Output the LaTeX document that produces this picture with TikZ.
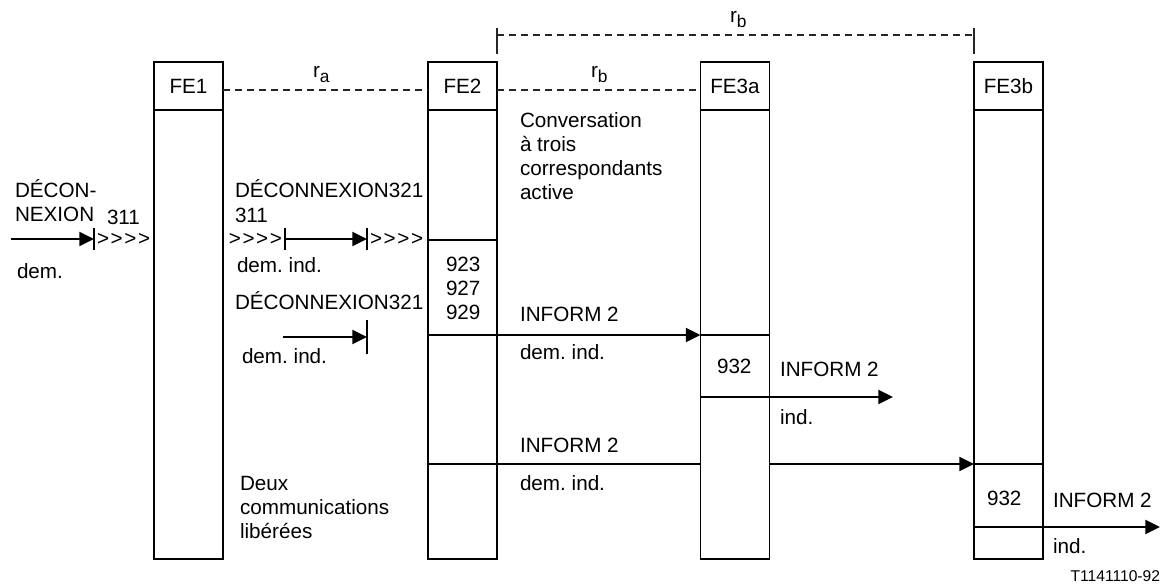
\documentclass[tikz,border=0pt]{standalone}
\usepackage{fontspec}
\setmainfont{Liberation Sans}
\frenchspacing
\usetikzlibrary{arrows.meta}
\newcommand{\chevrons}{>\kern1.2pt>\kern1.2pt>\kern1.2pt>}
\begin{document}
\begin{tikzpicture}[x=0.75pt,y=-0.75pt,
  every node/.style={font=\fontsize{15.5pt}{18pt}\selectfont\frenchspacing, inner sep=0pt, outer sep=0pt},
  hdr/.style={draw, line width=0.9pt, minimum width=51.75pt, minimum height=36pt},
  bodybox/.style={draw, line width=0.9pt, minimum width=51.75pt, minimum height=336.75pt},
  sep/.style={line width=1.5pt},
  arr/.style={line width=1.5pt, -{Triangle[length=11pt,width=10.5pt]}},
  tickl/.style={line width=1.5pt},
  rel/.style={dash pattern=on 5.5pt off 3.5pt, line width=0.8pt, black!85},
  reltick/.style={line width=0.8pt, black!85},
  lbl/.style={anchor=base west},
  lblm/.style={anchor=base west, align=left},
]
\useasboundingbox (0,0) rectangle (1167,584);

% functional entities
\node[hdr] (fe1) at (188.5,86) {FE1};
\node[hdr] (fe2) at (462.5,86) {FE2};
\node[hdr] (fe3a) at (735,86) {FE3a};
\node[hdr] (fe3b) at (1008.5,86) {FE3b};
\node[bodybox] (fe1b) at (188.5,334.5) {};
\node[bodybox] (fe2b) at (462.5,334.5) {};
\node[bodybox] (fe3ab) at (735,334.5) {};
\node[bodybox] (fe3bb) at (1008.5,334.5) {};
\foreach \n in {fe1,fe2,fe3a,fe3b}{\draw[sep] (\n.south west) -- (\n.south east);}

% relationships
\draw[rel] ([yshift=-3pt]fe1.east) -- ([yshift=-3pt]fe2.west);
\draw[rel] ([yshift=-3pt]fe2.east) -- ([yshift=-3pt]fe3a.west);
\coordinate (ytop) at (0,35);
\coordinate (ta) at (fe2.east |- ytop);
\coordinate (tb) at (fe3b.west |- ytop);
\draw[rel] (ta) -- (tb);
\draw[reltick] ([yshift=5.25pt]ta) -- ([yshift=-14.25pt]ta);
\draw[reltick] ([yshift=5.25pt]tb) -- ([yshift=-14.25pt]tb);
\node[lbl] (ra) at (313,77.5) {r\raisebox{-3.5pt}{\fontsize{13pt}{13pt}\selectfont a}};
\node[lbl] (rb1) at (591,77.5) {r\raisebox{-3.5pt}{\fontsize{13pt}{13pt}\selectfont b}};
\node[lbl] (rb2) at (730,22.5) {r\raisebox{-3.5pt}{\fontsize{13pt}{13pt}\selectfont b}};

% helper rows
\coordinate (y240) at (0,240);
\coordinate (y335) at (0,335);
\coordinate (y464) at (0,464);

% left side: incoming DECONNEXION
\coordinate (a1s) at (11,239);
\coordinate (a1e) at (94,239);
\draw[arr] (a1s) -- (a1e);
\draw[tickl] ([yshift=8.25pt]a1e) -- ([yshift=-8.25pt]a1e);
\node[anchor=west] (g1) at (97,239) {\chevrons};

\node[anchor=east] (g2) at (282,239) {\chevrons};
\coordinate (a2s) at (285,239);
\coordinate (a2e) at (367,239);
\draw[tickl] ([yshift=8.25pt]a2s) -- ([yshift=-8.25pt]a2s);
\draw[arr] (a2s) -- (a2e);
\draw[tickl] ([yshift=8.25pt]a2e) -- ([yshift=-8.25pt]a2e);
\node[anchor=west] (g3) at (370,239) {\chevrons};
\draw[sep] (fe2b.west |- y240) -- (fe2b.east |- y240);

\coordinate (a3s) at (283,337);
\coordinate (a3e) at (367,337);
\draw[arr] (a3s) -- (a3e);
\draw[tickl] ([yshift=12.75pt]a3e) -- ([yshift=-12.75pt]a3e);

% INFORM 2 flows
\draw[arr] (fe2b.west |- y335) -- (fe3ab.west |- y335);
\draw[sep] (fe3ab.west |- y335) -- (fe3ab.east |- y335);
\coordinate (e397) at (893,397);
\draw[arr] (fe3ab.west |- e397) -- (e397);
\draw[sep] (fe2b.west |- y464) -- (fe3ab.west |- y464);
\draw[arr] (fe3ab.east |- y464) -- (fe3bb.west |- y464);
\draw[sep] (fe3bb.west |- y464) -- (fe3bb.east |- y464);
\coordinate (e527) at (1160,527);
\draw[arr] (fe3bb.west |- e527) -- (e527);

% labels
\node[lbl] (l1) at (15,198) {DÉCON-};
\node[lbl] (l2) at (15,222) {NEXION};
\node[lbl] (l3) at (107,225) {311};
\node[lbl] (l4) at (17,279) {dem.};
\node[lbl] (l5) at (235,198) {DÉCONNEXION321};
\node[lbl] (l6) at (235,223) {311};
\node[lbl] (l7) at (237,273) {dem. ind.};
\node[lbl] (l8) at (235,310) {DÉCONNEXION321};
\node[lbl] (l9) at (242,364) {dem. ind.};
\node[lblm] (conv) at (520,200) {Conversation\\à trois\\correspondants\\active};
\node[lblm] (nums) at (446,320) {923\\927\\929};
\node[lbl] (i1) at (520,322) {INFORM 2};
\node[lbl] (d1) at (520,360) {dem. ind.};
\node[lbl] (n1) at (717,374) {932};
\node[lbl] (i2) at (780,377) {INFORM 2};
\node[lbl] (d2) at (780,425) {ind.};
\node[lbl] (i3) at (520,452) {INFORM 2};
\node[lbl] (d3) at (520,490) {dem. ind.};
\node[lblm] (deux) at (240,538) {Deux\\communications\\libérées};
\node[lbl] (n2) at (987,505) {932};
\node[lbl] (i4) at (1053,507) {INFORM 2};
\node[lbl] (d4) at (1053,553) {ind.};
\node[anchor=base east, font=\fontsize{11.7pt}{14pt}\selectfont] (ref) at (1160,581) {T1141110-92};
\end{tikzpicture}
\end{document}
